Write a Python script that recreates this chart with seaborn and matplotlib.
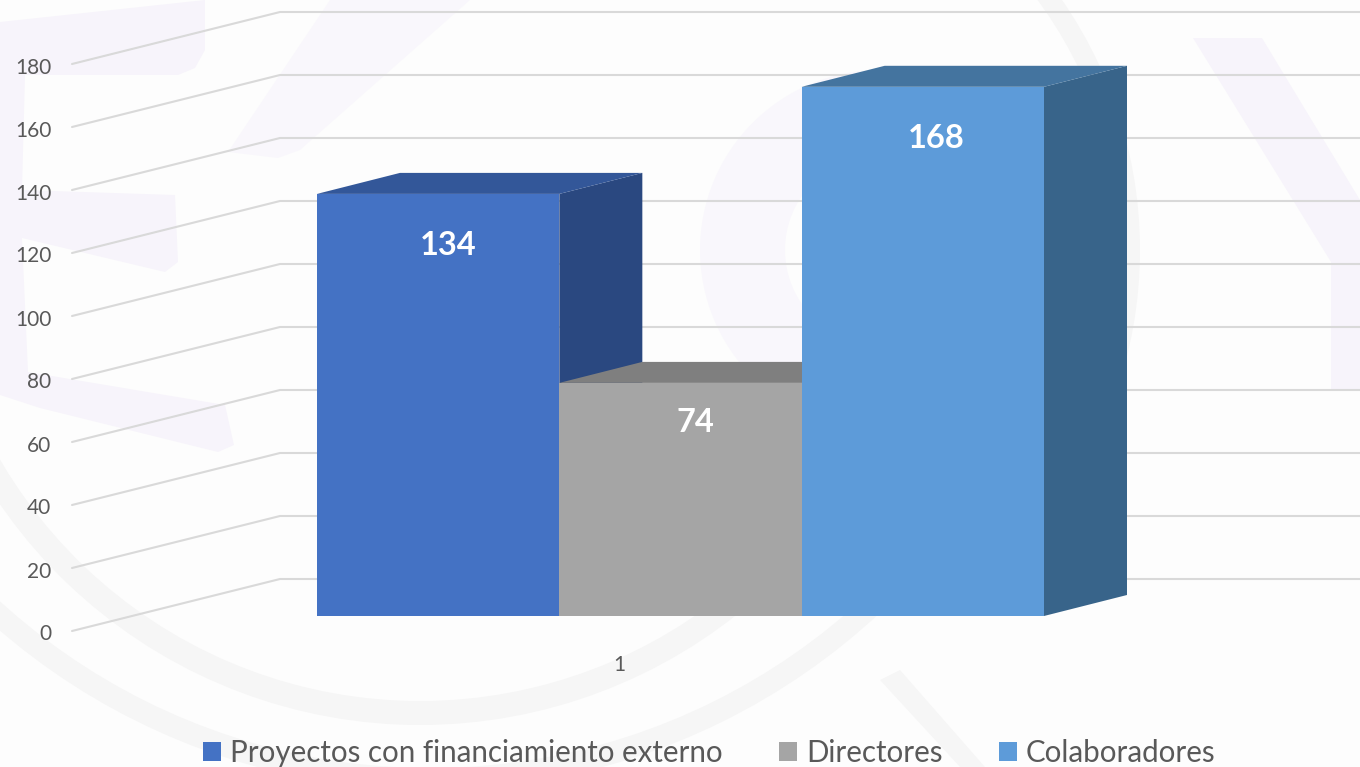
import pandas as pd
import seaborn as sns
import matplotlib.pyplot as plt
from matplotlib.patches import Polygon, Wedge
from matplotlib.transforms import ScaledTranslation

# datos del grafico
series = ['Proyectos con financiamiento externo', 'Directores', 'Colaboradores']
valores = [134, 74, 168]
categoria = ['1']
ticks_y = [0, 20, 40, 60, 80, 100, 120, 140, 160, 180]

colores = ['#4472C4', '#A5A5A5', '#5D9BD9']
colores_lado = ['#2A4880', '#636363', '#38648A']
colores_techo = ['#335799', '#7F7F7F', '#44749F']
texto_gris = '#595959'

W, H = 1360, 767
ESCALA = 3.15  # px por unidad
PROF_X, PROF_Y = 83, 21  # profundidad de las barras en px
BASE_BARRAS = 616
BASE_PARED = 631

sns.set_style('white')
plt.rcParams['font.family'] = ['Lato', 'DejaVu Sans']

fig = plt.figure(figsize=(W / 100, H / 100), dpi=100, facecolor='#FDFDFD')

# marca de agua del fondo, en px
bg = fig.add_axes([0, 0, 1, 1], zorder=0)
bg.set_xlim(0, W)
bg.set_ylim(H, 0)
bg.axis('off')
lavanda = '#F7F4FB'
gris_fondo = '#F6F6F6'
formas = [
    [(0, 22), (205, 0), (205, 50), (195, 68), (178, 75), (25, 75), (22, 190), (175, 195), (178, 262),
     (165, 272), (22, 238), (28, 372), (225, 405), (234, 445), (218, 452), (40, 408), (0, 395)],
    [(1193, 38), (1262, 38), (1360, 200), (1360, 390), (1331, 390), (1331, 262)],
]
for f in formas:
    bg.add_patch(Polygon(f, closed=True, fc=lavanda, ec='none'))
bg.add_patch(Polygon([(330, 0), (470, 0), (300, 150), (278, 158), (228, 152)], closed=True, fc='#F9F7FC', ec='none'))
bg.add_patch(Wedge((880, 250), 180, 90, 270, width=85, fc='#F9F7FC', ec='none'))
bg.add_patch(Wedge((420, 215), 510, 10, 175, width=24, fc=gris_fondo, ec='none'))
bg.add_patch(Wedge((430, 130), 660, 30, 165, width=22, fc=gris_fondo, ec='none'))
bg.add_patch(Wedge((700, 250), 440, -40, 40, width=20, fc=gris_fondo, ec='none'))
bg.add_patch(Polygon([(880, 680), (900, 670), (985, 767), (960, 767)], closed=True, fc=gris_fondo, ec='none'))

# pared con las lineas de la cuadricula y las etiquetas del eje
pared = fig.add_axes([72 / W, 1 - BASE_PARED / H, (W - 72) / W, BASE_PARED / H], zorder=1)
pared.patch.set_alpha(0)
pared.set_xlim(72, W)
pared.set_ylim(0, BASE_PARED / ESCALA)
subida = 52 / ESCALA
for v in ticks_y:
    pared.plot([72, 280, W], [v, v + subida, v + subida], color='#D9D9D9', lw=1.5, solid_joinstyle='round', clip_on=False)
pared.set_yticks(ticks_y)
pared.set_xticks([619], categoria)
pared.tick_params(axis='y', length=0, pad=15, labelsize=15, labelcolor=texto_gris)
pared.tick_params(axis='x', length=0, pad=17, labelsize=15, labelcolor=texto_gris)
sns.despine(ax=pared, left=True, bottom=True)
for t in pared.get_yticklabels():
    t.set_transform(t.get_transform() + ScaledTranslation(0, -1.5 / 100, fig.dpi_scale_trans))

# barras
df = pd.DataFrame({'categoria': categoria * len(series), 'serie': series, 'valor': valores})
ax = fig.add_axes([0, 0, 1, 1], zorder=2)
ax.patch.set_alpha(0)
sns.barplot(data=df, x='categoria', y='valor', hue='serie', hue_order=series, palette=colores,
            width=1, gap=0, saturation=1, legend=False, ax=ax, zorder=10)
ANCHO = 727  # px del grupo completo
ax.set_xlim(-680.5 / ANCHO, (W - 680.5) / ANCHO)
ax.set_ylim(-(H - BASE_BARRAS) / ESCALA, BASE_BARRAS / ESCALA)
ax.axis('off')

dx, dy = PROF_X / ANCHO, PROF_Y / ESCALA
barras = ax.containers
offs = [(10, -52), (15, -40), (13, -52)]
for i, cont in enumerate(barras):
    r = cont[0]
    r.set_edgecolor('none')
    x0, x1, v = r.get_x(), r.get_x() + r.get_width(), r.get_height()
    lado = [(x1, 0), (x1 + dx, dy), (x1 + dx, v + dy), (x1, v)]
    techo = [(x0, v), (x0 + dx, v + dy), (x1 + dx, v + dy), (x1, v)]
    ax.add_patch(Polygon(lado, closed=True, fc=colores_lado[i], ec='none', zorder=3 + i))
    ax.add_patch(Polygon(techo, closed=True, fc=colores_techo[i], ec='none', zorder=3 + i))
    ax.annotate(str(valores[i]), xy=((x0 + x1) / 2, v), xytext=offs[i], textcoords='offset pixels',
                ha='center', va='center', color='white', fontsize=23.5, fontweight='bold', zorder=12)

# leyenda
handles = [c[0] for c in barras]
fig.legend(handles, series, loc='lower left', bbox_to_anchor=(203 / W, 0.0), ncol=3, frameon=False,
           fontsize=21.25, labelcolor=texto_gris, handlelength=0.62, handleheight=0.62, handletextpad=0.3,
           columnspacing=1.9, borderaxespad=0, borderpad=0)

plt.savefig('out.png', dpi=100, facecolor=fig.get_facecolor())
